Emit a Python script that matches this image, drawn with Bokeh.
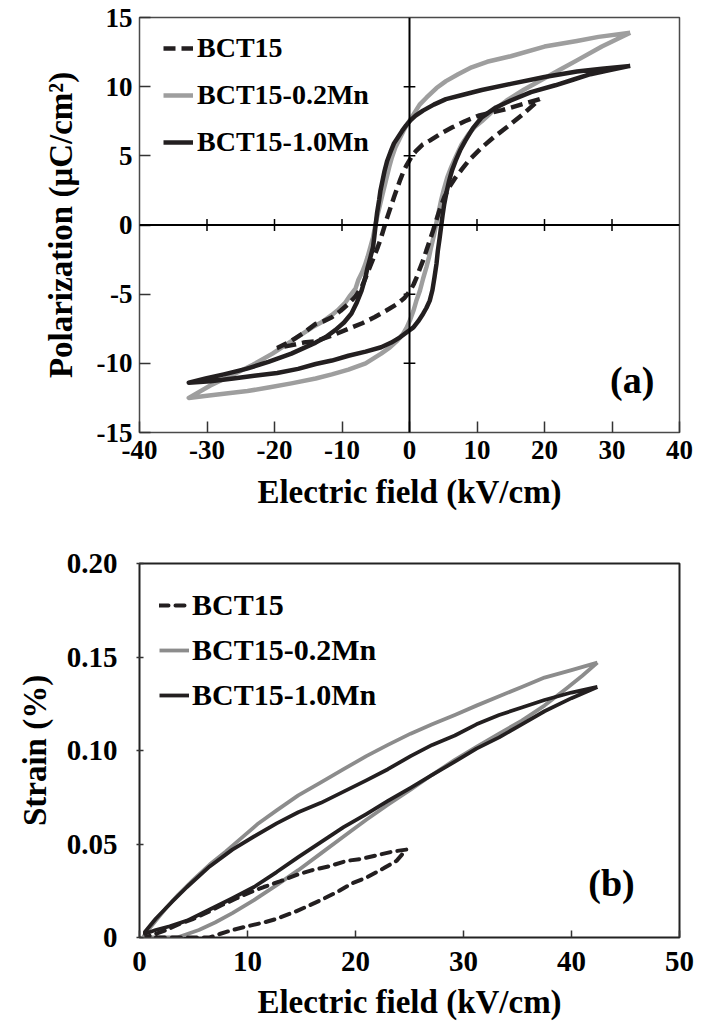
from bokeh.plotting import figure
from bokeh.models import Range1d, Span, Legend, LegendItem, Label, FixedTicker
from bokeh.layouts import column
from bokeh.embed import file_html
from bokeh.resources import INLINE

FONT = "Liberation Serif"

# ------------------------------------------------------------------ data
series_names = ["BCT15", "BCT15-0.2Mn", "BCT15-1.0Mn"]

# panel (a): P-E loops, upper (descending) branch then lower (ascending) branch
a_xticks = [-40, -30, -20, -10, 0, 10, 20, 30, 40]
a_xlabels = ["-40", "-30", "-20", "-10", "0", "10", "20", "30", "40"]
a_yticks = [-15, -10, -5, 0, 5, 10, 15]
a_ylabels = ["-15", "-10", "-5", "0", "5", "10", "15"]

pe_02mn_up_e = [32.7, 28, 24.8, 20, 15, 11.5, 9.2, 7.2, 5.4, 4.0, 2.5, 1.5, 0.6, -0.2, -0.9, -1.5, -2.1,
                -2.6, -3.0, -3.5, -4.0, -4.4, -4.7, -5.1, -5.4, -5.8, -6.2, -6.6, -7.0, -7.6, -8.0, -8.8,
                -9.5, -10.5, -11.5, -12.9, -14.4, -17.5, -20.3, -23.2, -26.1, -29.5, -32.7]
pe_02mn_up_p = [13.9, 13.6, 13.3, 12.9, 12.2, 11.8, 11.4, 10.9, 10.4, 9.9, 9.2, 8.7, 8.0, 7.4, 6.8, 6.2, 5.6,
                4.9, 4.2, 3.2, 2.2, 1.4, 0.8, -0.1, -0.9, -1.6, -2.3, -2.9, -3.4, -4.0, -4.6, -5.1,
                -5.6, -6.1, -6.5, -7.0, -7.4, -8.4, -9.3, -10.1, -10.8, -11.6, -12.5]
pe_02mn_lo_e = [-32.7, -30, -27.5, -24, -20.9, -17.5, -13.9, -11.5, -9.05, -6.5, -4.2, -2.9, -1.8, -1.0,
                -0.4, 0.1, 0.58, 1.0, 1.54, 2.0, 2.5, 2.9, 3.2, 3.6, 3.95, 4.3, 4.67, 5.1, 5.6, 6.2, 6.84,
                7.7, 8.76, 9.7, 10.7, 12.5, 14.4, 17, 19.6, 22.2, 24.8, 28.5, 32.7]
pe_02mn_lo_p = [-12.5, -12.35, -12.2, -12.0, -11.75, -11.45, -11.1, -10.8, -10.45, -10.0, -9.3, -8.85, -8.35,
                -7.9, -7.4, -6.85, -6.2, -5.5, -4.75, -3.9, -3.06, -2.3, -1.6, -0.8, 0.07, 0.9, 1.76,
                2.6, 3.45, 4.2, 4.9, 5.8, 6.58, 7.1, 7.5, 8.3, 9.0, 9.8, 10.5, 11.2, 11.9, 12.9, 13.9]

pe_10mn_up_e = [32.7, 28.5, 24.8, 20, 15, 10.7, 7.8, 5.4, 3.6, 2.0, 0.9, 0.1, -0.5, -1.1, -1.7, -2.3, -2.8,
                -3.3, -3.7, -4.0, -4.3, -4.5, -4.8, -5.0, -5.2, -5.4, -5.8, -6.2, -6.6, -7.1, -7.8, -8.6,
                -9.7, -11, -12.4, -13.9, -17.5, -20.9, -24.2, -27.5, -30.2, -32.7]
pe_10mn_up_p = [11.5, 11.3, 11.1, 10.7, 10.2, 9.76, 9.4, 9.1, 8.7, 8.27, 7.9, 7.54, 7.2, 6.8, 6.35, 5.9,
                5.3, 4.65, 3.9, 3.2, 2.5, 1.8, 0.9, 0.07, -0.8, -1.6, -2.35, -3.06, -3.9, -4.75, -5.6, -6.4,
                -7.05, -7.6, -8.1, -8.5, -9.3, -9.9, -10.4, -10.8, -11.1, -11.4]
pe_10mn_lo_e = [-32.7, -29.5, -26.1, -23, -19.6, -16.5, -13.9, -11.5, -9.05, -6.5, -4.2, -2.7, -1.35, -0.4,
                0.58, 1.3, 2.0, 2.5, 3.0, 3.4, 3.7, 4.0, 4.2, 4.45, 4.67, 4.9, 5.15, 5.5, 5.87, 6.3, 6.84,
                7.5, 8.28, 9.4, 10.7, 12.8, 15, 18, 21.6, 24.2, 26.8, 29.7, 32.7]
pe_10mn_lo_p = [-11.4, -11.3, -11.1, -10.9, -10.7, -10.4, -10.05, -9.8, -9.45, -9.15, -8.84, -8.5, -8.1,
                -7.75, -7.4, -6.95, -6.43, -6.0, -5.47, -4.7, -3.78, -2.8, -1.86, -1.0, -0.17, 0.7, 1.52,
                2.4, 3.2, 3.95, 4.65, 5.4, 6.1, 7.0, 7.78, 8.5, 9.0, 9.6, 10.1, 10.5, 10.9, 11.2, 11.5]

pe_bct15_up_e = [19.3, 16.5, 13.7, 10.2, 8.2, 6.35, 4.6, 3.0, 1.9, 1.06, 0.5, 0.1, -0.4, -0.87, -1.35, -1.8,
                 -2.3, -2.8, -3.3, -3.75, -4.2, -4.7, -5.3, -5.9, -6.5, -7.1, -8.0, -9.05, -10.2, -11.5,
                 -12.7, -13.9, -15.7, -17.6, -19.6]
pe_bct15_up_p = [9.1, 8.7, 8.3, 7.9, 7.5, 7.06, 6.6, 6.1, 5.8, 5.4, 5.1, 4.77, 4.35, 3.9, 3.3, 2.7,
                 2.0, 1.28, 0.55, -0.17, -0.9, -1.6, -2.35, -3.06, -3.8, -4.5, -5.15, -5.7, -6.2, -6.67,
                 -6.95, -7.15, -7.8, -8.4, -8.9]
pe_bct15_lo_e = [-19.6, -17.6, -15.7, -13.9, -11.5, -9.05, -7.0, -5.2, -3.5, -1.8, -0.8, 0.1, 0.6, 1.06, 1.5,
                 2.0, 2.5, 3.0, 3.5, 3.95, 4.5, 5.15, 5.9, 6.84, 7.8, 8.76, 10.7, 12.5, 14.5, 16.8, 19.3]
pe_bct15_lo_p = [-8.9, -8.7, -8.5, -8.4, -8.0, -7.5, -7.1, -6.67, -6.2, -5.7, -5.3, -4.75, -4.3, -3.78, -3.2,
                 -2.58, -1.85, -1.13, -0.4, 0.31, 1.15, 2.0, 2.75, 3.45, 4.05, 4.65, 5.6, 6.35, 7.1, 8.0, 9.1]

# panel (b): S-E loops, return branch (tip -> origin) then rising branch
b_xticks = [0, 10, 20, 30, 40, 50]
b_xlabels = ["0", "10", "20", "30", "40", "50"]
b_yticks = [0, 0.05, 0.10, 0.15, 0.20]
b_ylabels = ["0", "0.05", "0.10", "0.15", "0.20"]

se_02mn_up_e = [42.4, 40, 37.5, 35.4, 33.3, 31.2, 29.2, 27.1, 25.1, 23, 21, 18.9, 16.8, 14.7, 12.7, 11,
                9.4, 8.0, 6.5, 5.0, 3.6, 2.5, 1.5, 0.8, 0.3]
se_02mn_up_s = [0.147, 0.143, 0.139, 0.134, 0.129, 0.124, 0.119, 0.114, 0.109, 0.103, 0.097, 0.090, 0.083,
                0.076, 0.068, 0.061, 0.053, 0.046, 0.039, 0.031, 0.023, 0.016, 0.009, 0.004, 0.0]
se_02mn_lo_e = [3.5, 4.5, 5.5, 7.0, 8.6, 10.6, 12.7, 14.7, 16.8, 18.9, 21, 23, 25.1, 27.1, 29.2, 31.2, 33.3,
                35.4, 37.5, 39.5, 41.0, 42.4]
se_02mn_lo_s = [0.0, 0.002, 0.004, 0.008, 0.013, 0.020, 0.028, 0.036, 0.045, 0.054, 0.063, 0.071, 0.079,
                0.087, 0.095, 0.102, 0.109, 0.116, 0.124, 0.133, 0.140, 0.147]

se_10mn_up_e = [42.4, 40, 37.5, 35.4, 33.3, 31.2, 29.2, 27.1, 25.1, 23, 21, 18.9, 16.8, 14.7, 12.7, 10.6,
                8.6, 6.5, 4.4, 3.0, 1.5, 0.5]
se_10mn_up_s = [0.134, 0.131, 0.127, 0.123, 0.119, 0.114, 0.108, 0.103, 0.097, 0.090, 0.084, 0.078, 0.072,
                0.067, 0.061, 0.054, 0.047, 0.038, 0.027, 0.019, 0.010, 0.003]
se_10mn_lo_e = [0.5, 1.5, 2.8, 4.4, 6.5, 8.6, 10.6, 12.7, 14.7, 16.8, 18.9, 21, 23, 25.1, 27.1, 29.2, 31.2,
                33.3, 35.4, 37.5, 40, 42.4]
se_10mn_lo_s = [0.002, 0.004, 0.006, 0.009, 0.015, 0.021, 0.027, 0.035, 0.043, 0.051, 0.059, 0.066, 0.073,
                0.080, 0.087, 0.094, 0.101, 0.107, 0.114, 0.121, 0.128, 0.134]

se_bct15_up_e = [24.7, 23.5, 22, 20.5, 19.2, 17.5, 16, 14.8, 13, 11.5, 10.6, 9, 7.5, 6.5, 5, 3.6, 2.5, 1.5, 0.5]
se_bct15_up_s = [0.047, 0.046, 0.044, 0.042, 0.041, 0.038, 0.036, 0.034, 0.030, 0.027, 0.025, 0.021, 0.017,
                 0.014, 0.010, 0.007, 0.004, 0.002, 0.0]
se_bct15_lo_e = [6.5, 7.5, 8.6, 10, 11.5, 12.7, 14.5, 16.8, 18.5, 19.7, 21, 22.6, 23.8, 24.7]
se_bct15_lo_s = [0.0, 0.002, 0.004, 0.006, 0.008, 0.010, 0.014, 0.020, 0.025, 0.029, 0.032, 0.037, 0.041, 0.047]

# ------------------------------------------------------------------ styles
BLACK = "#231f20"
GRAY_A = "#9e9e9e"
GRAY_B = "#8c8c8c"

W = 708
HA = 540
HB = 488


def style_axes(p, tick_size, title_size, tick_in_x, tick_in_y, tick_out_y, xstand, ystand, xlab_st, ylab_st):
    for ax, tin, tout, st, lst in ((p.xaxis[0], tick_in_x, 0, xstand, xlab_st),
                                   (p.yaxis[0], tick_in_y, tick_out_y, ystand, ylab_st)):
        ax.axis_line_color = None
        ax.major_tick_line_color = "#333333"
        ax.major_tick_line_width = 1.5
        ax.major_tick_in = tin
        ax.major_tick_out = tout
        ax.minor_tick_line_color = None
        ax.major_label_text_font = FONT
        ax.major_label_text_font_style = "bold"
        ax.major_label_text_font_size = tick_size
        ax.major_label_text_color = "black"
        ax.major_label_standoff = st
        ax.axis_label_text_font = FONT
        ax.axis_label_text_font_style = "bold"
        ax.axis_label_text_font_size = title_size
        ax.axis_label_text_color = "black"
        ax.axis_label_standoff = lst
    p.xgrid.visible = False
    p.ygrid.visible = False


# ------------------------------------------------------------------ panel (a)
A_L, A_R, A_T, A_B = 139, 15, 17, 108
pa = figure(width=W, height=HA, x_range=Range1d(-40, 40), y_range=Range1d(-15, 15),
            output_backend="svg", toolbar_location=None,
            min_border_left=A_L, min_border_right=A_R, min_border_top=A_T, min_border_bottom=A_B,
            x_axis_label="Electric field (kV/cm)", y_axis_label="Polarization (μC/cm²)")
pa.xaxis[0].ticker = FixedTicker(ticks=a_xticks)
pa.yaxis[0].ticker = FixedTicker(ticks=a_yticks)
pa.xaxis[0].major_label_overrides = {t: l for t, l in zip(a_xticks, a_xlabels)}
pa.yaxis[0].major_label_overrides = {t: l for t, l in zip(a_yticks, a_ylabels)}
style_axes(pa, "27px", "33px", 11, 11, 0, 8, 7, 12, 15)
pa.outline_line_color = "#4a4a4a"
pa.outline_line_width = 1.5

fw_a = W - A_L - A_R
fh_a = HA - A_T - A_B

pa.add_layout(Span(location=0, dimension="width", line_color="black", line_width=2))
pa.add_layout(Span(location=0, dimension="height", line_color="black", line_width=2))
# cross ticks on the zero lines
hx = 6 * 30 / fh_a
hy = 6 * 80 / fw_a
inner_x = [t for t in a_xticks if t not in (0, a_xticks[0], a_xticks[-1])]
inner_y = [t for t in a_yticks if t not in (0, a_yticks[0], a_yticks[-1])]
pa.segment(x0=inner_x, x1=inner_x, y0=[-hx] * len(inner_x), y1=[hx] * len(inner_x),
           line_color="black", line_width=1.5)
pa.segment(x0=[-hy] * len(inner_y), x1=[hy] * len(inner_y), y0=inner_y, y1=inner_y,
           line_color="black", line_width=1.5)

ra_g = pa.line(pe_02mn_up_e + pe_02mn_lo_e, pe_02mn_up_p + pe_02mn_lo_p,
               line_color=GRAY_A, line_width=4.5, line_join="round")
ra_k = pa.line(pe_10mn_up_e + pe_10mn_lo_e, pe_10mn_up_p + pe_10mn_lo_p,
               line_color=BLACK, line_width=4.5, line_join="round")
ra_d = pa.line(pe_bct15_up_e + pe_bct15_lo_e, pe_bct15_up_p + pe_bct15_lo_p,
               line_color=BLACK, line_width=4.5, line_dash="12 6")

leg_a = Legend(items=[LegendItem(label=series_names[0], renderers=[ra_d]),
                      LegendItem(label=series_names[1], renderers=[ra_g]),
                      LegendItem(label=series_names[2], renderers=[ra_k])],
               location=(24, fh_a - 9 - 138), margin=0, padding=0, spacing=3,
               glyph_width=30, glyph_height=44, label_height=44, label_standoff=4,
               label_text_font=FONT, label_text_font_style="bold", label_text_font_size="28px",
               label_text_color="black", border_line_color=None, background_fill_alpha=0)
pa.add_layout(leg_a)
pa.add_layout(Label(x=33.0, y=-11.2, text="(a)", text_font=FONT, text_font_style="bold",
                    text_font_size="38px", text_color="black",
                    text_align="center", text_baseline="middle"))

# ------------------------------------------------------------------ panel (b)
B_L, B_R, B_T, B_B = 132, 29, 23, 91
pb = figure(width=W, height=HB, x_range=Range1d(0, 50), y_range=Range1d(0, 0.2),
            output_backend="svg", toolbar_location=None,
            min_border_left=B_L, min_border_right=B_R, min_border_top=B_T, min_border_bottom=B_B,
            x_axis_label="Electric field (kV/cm)", y_axis_label="Strain (%)")
pb.xaxis[0].ticker = FixedTicker(ticks=b_xticks)
pb.yaxis[0].ticker = FixedTicker(ticks=b_yticks)
pb.xaxis[0].major_label_overrides = {t: l for t, l in zip(b_xticks, b_xlabels)}
pb.yaxis[0].major_label_overrides = {t: l for t, l in zip(b_yticks, b_ylabels)}
style_axes(pb, "29px", "33px", 7, 4, 3, 14, 19, 10, 11)
pb.outline_line_color = "#222222"
pb.outline_line_width = 2

fh_b = HB - B_T - B_B

rb_g = pb.line(se_02mn_up_e + se_02mn_lo_e, se_02mn_up_s + se_02mn_lo_s,
               line_color=GRAY_B, line_width=3.8, line_join="round")
rb_k = pb.line(se_10mn_up_e + se_10mn_lo_e, se_10mn_up_s + se_10mn_lo_s,
               line_color=BLACK, line_width=3.8, line_join="round")
rb_d = pb.line(se_bct15_up_e + se_bct15_lo_e, se_bct15_up_s + se_bct15_lo_s,
               line_color=BLACK, line_width=4, line_dash="9 7", line_cap="round")

leg_b = Legend(items=[LegendItem(label=series_names[0], renderers=[rb_d]),
                      LegendItem(label=series_names[1], renderers=[rb_g]),
                      LegendItem(label=series_names[2], renderers=[rb_k])],
               location=(20, fh_b - 21 - 132), margin=0, padding=0, spacing=3,
               glyph_width=30, glyph_height=42, label_height=42, label_standoff=3,
               label_text_font=FONT, label_text_font_style="bold", label_text_font_size="30px",
               label_text_color="black", border_line_color=None, background_fill_alpha=0)
pb.add_layout(leg_b)
pb.add_layout(Label(x=43.7, y=0.0294, text="(b)", text_font=FONT, text_font_style="bold",
                    text_font_size="38px", text_color="black",
                    text_align="center", text_baseline="middle"))

layout = column(pa, pb, spacing=0)
open("out.html", "w").write(file_html(layout, INLINE))
